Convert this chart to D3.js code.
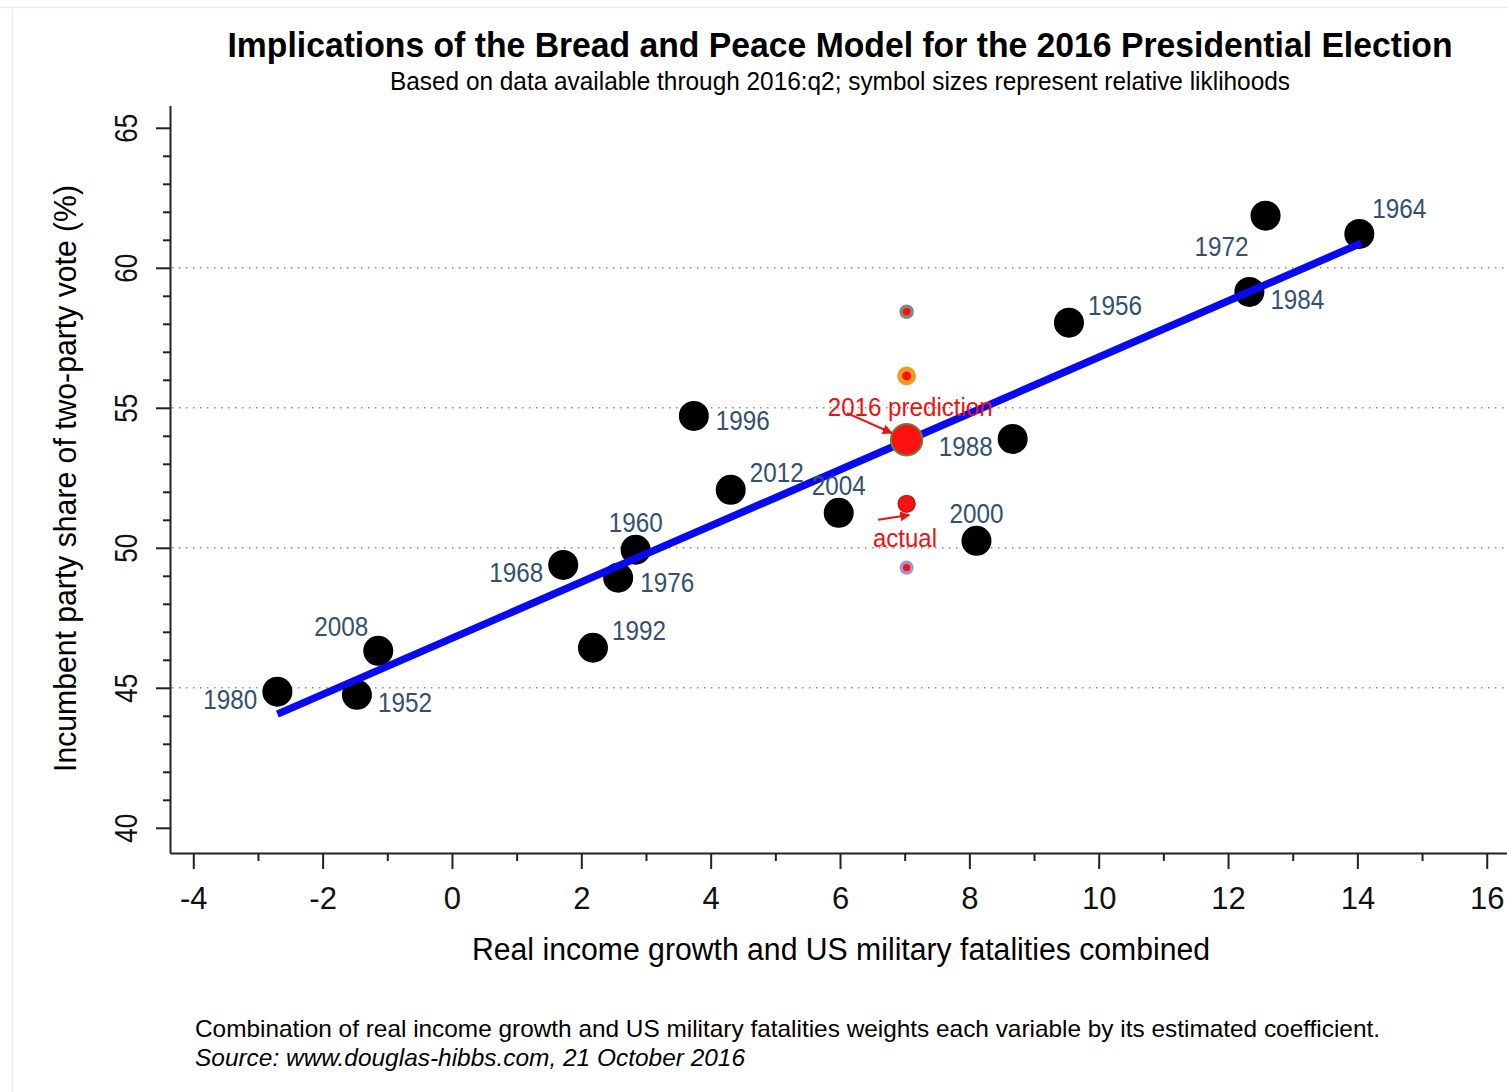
<!DOCTYPE html>
<html>
<head>
<meta charset="utf-8">
<script src="https://cdn.jsdelivr.net/npm/d3@7"></script>
<style>
  html, body { margin: 0; padding: 0; background: #fff; }
  svg { display: block; }
</style>
</head>
<body>
<svg id="chart" width="1507" height="1092"></svg>
<script>
// Presidential elections: combined income-growth / fatalities index vs. incumbent vote share
const years = ["1952","1956","1960","1964","1968","1972","1976","1980","1984","1988","1992","1996","2000","2004","2008","2012"];
const combined = [-1.47, 9.54, 2.84, 14.03, 1.72, 12.58, 2.57, -2.70, 12.33, 8.67, 2.18, 3.74, 8.11, 5.98, -1.14, 4.31];
const voteShare = [44.75, 58.04, 49.93, 61.21, 49.39, 61.86, 48.93, 44.86, 59.14, 53.89, 46.43, 54.71, 50.25, 51.25, 46.32, 52.07];
// clock position of each year label around its marker
const labelClock = [4, 2, 12, 1, 9, 8, 3, 9, 4, 9, 2, 3, 12, 12, 11, 2];

// fitted regression line endpoints
const fitX = [-2.70, 14.06];
const fitY = [44.06, 60.88];

// 2016 prediction and its likelihood band
const predX = 7.03;
const predY = [58.43, 56.14, 53.86, 51.57, 49.29];
const predLikelihood = [0.19, 0.32, 1.0, 0.3, 0.18];
const predRing = ["#7f8a80", "#f29a25", "#6e7f3a", "#b81a1a", "#a293d8"];
const predRingWidth = [3.5, 5, 2, 1.5, 3.5];

// axis ticks
const xTicks = [-4, -2, 0, 2, 4, 6, 8, 10, 12, 14, 16];
const xMinor = [-3, -1, 1, 3, 5, 7, 9, 11, 13, 15];
const yTicks = [40, 45, 50, 55, 60, 65];
const yMinor = [41,42,43,44,46,47,48,49,51,52,53,54,56,57,58,59,61,62,63,64];
const gridValues = [45, 50, 55, 60];

const FONT = "'Liberation Sans', Arial, Helvetica, sans-serif";
const LABEL_BLUE = "#33506f";
const svg = d3.select("#chart");

const x = d3.scaleLinear().domain([-4.36, 16.4]).range([170, 1512.6]);
const y = d3.scaleLinear().domain([39.1, 65.8]).range([853, 105.4]);
const r = d3.scaleSqrt().domain([0, 1]).range([0, 16.7]);

// faint outer frame of the graph region
svg.append("line").attr("x1", 0).attr("x2", 1507).attr("y1", 7.5).attr("y2", 7.5)
  .attr("stroke", "#ececec").attr("stroke-width", 1.5);
svg.append("line").attr("x1", 12.5).attr("x2", 12.5).attr("y1", 7.5).attr("y2", 1092)
  .attr("stroke", "#ececec").attr("stroke-width", 1.5);

// helper for text squeezed to a measured width
function fitText(g, str, width) {
  return g.text(str).attr("textLength", width).attr("lengthAdjust", "spacingAndGlyphs");
}

// titles
fitText(svg.append("text").attr("x", 840).attr("y", 57).attr("text-anchor", "middle")
  .attr("font-family", FONT).attr("font-weight", "bold").attr("font-size", 35).attr("fill", "#000"),
  "Implications of the Bread and Peace Model for the 2016 Presidential Election", 1225);
fitText(svg.append("text").attr("x", 840).attr("y", 90).attr("text-anchor", "middle")
  .attr("font-family", FONT).attr("font-size", 25).attr("fill", "#000"),
  "Based on data available through 2016:q2; symbol sizes represent relative liklihoods", 900);

// horizontal dotted gridlines
svg.append("g").selectAll("line").data(gridValues).join("line")
  .attr("x1", x(-4.33)).attr("x2", 1507)
  .attr("y1", d => y(d)).attr("y2", d => y(d))
  .attr("stroke", "#8a8a8a").attr("stroke-width", 1.5).attr("stroke-dasharray", "1.5,5.5");

// x axis
const gx = svg.append("g").attr("transform", `translate(0,${y(39.1)})`)
  .call(d3.axisBottom(x).tickValues(xTicks).tickSize(16).tickSizeOuter(0).tickPadding(18)
    .tickFormat(d => String(d)));
gx.select(".domain").attr("stroke", "#222").attr("stroke-width", 2);
gx.selectAll(".tick line").attr("stroke", "#222").attr("stroke-width", 2);
gx.selectAll(".tick text").attr("font-size", 31).attr("font-family", FONT).attr("fill", "#111");
const gxm = svg.append("g").attr("transform", `translate(0,${y(39.1)})`)
  .call(d3.axisBottom(x).tickValues(xMinor).tickSize(8).tickSizeOuter(0).tickFormat(""));
gxm.select(".domain").remove();
gxm.selectAll(".tick line").attr("stroke", "#222").attr("stroke-width", 2);

// y axis with rotated labels
const gy = svg.append("g").attr("transform", `translate(${x(-4.36)},0)`)
  .call(d3.axisLeft(y).tickValues(yTicks).tickSize(14).tickSizeOuter(0)
    .tickFormat(d => String(d)));
gy.select(".domain").attr("stroke", "#222").attr("stroke-width", 2);
gy.selectAll(".tick line").attr("stroke", "#222").attr("stroke-width", 2);
gy.selectAll(".tick text")
  .attr("x", null).attr("dy", null)
  .attr("transform", "translate(-33,0) rotate(-90)")
  .attr("text-anchor", "middle")
  .attr("font-size", 31).attr("font-family", FONT).attr("fill", "#111")
  .attr("textLength", 29).attr("lengthAdjust", "spacingAndGlyphs");
const gym = svg.append("g").attr("transform", `translate(${x(-4.36)},0)`)
  .call(d3.axisLeft(y).tickValues(yMinor).tickSize(7).tickSizeOuter(0).tickFormat(""));
gym.select(".domain").remove();
gym.selectAll(".tick line").attr("stroke", "#222").attr("stroke-width", 2);

// axis titles
fitText(svg.append("text").attr("x", 841).attr("y", 960).attr("text-anchor", "middle")
  .attr("font-family", FONT).attr("font-size", 31).attr("fill", "#000"),
  "Real income growth and US military fatalities combined", 738);
fitText(svg.append("text").attr("transform", "translate(76,478.5) rotate(-90)").attr("text-anchor", "middle")
  .attr("font-family", FONT).attr("font-size", 31).attr("fill", "#000"),
  "Incumbent party share of two-party vote (%)", 587);

// election markers
const idx = d3.range(years.length);
svg.append("g").selectAll("circle").data(idx).join("circle")
  .attr("cx", i => x(combined[i])).attr("cy", i => y(voteShare[i]))
  .attr("r", 15).attr("fill", "#000");

// fitted line
svg.append("line")
  .attr("x1", x(fitX[0])).attr("y1", y(fitY[0]))
  .attr("x2", x(fitX[1])).attr("y2", y(fitY[1]))
  .attr("stroke", "#0a0af2").attr("stroke-width", 7.5).attr("stroke-linecap", "butt");

// year labels placed by clock position
const clockOffset = {
  1: [40, -26], 2: [46, -18], 3: [49, 4], 4: [48, 7], 8: [-44, 30],
  9: [-47, 7], 11: [-37, -25], 12: [0, -28]
};
svg.append("g").selectAll("text").data(idx).join("text")
  .attr("x", i => x(combined[i]) + clockOffset[labelClock[i]][0])
  .attr("y", i => y(voteShare[i]) + clockOffset[labelClock[i]][1] + 10)
  .attr("text-anchor", "middle")
  .attr("font-family", FONT).attr("font-size", 27).attr("fill", LABEL_BLUE)
  .attr("textLength", 54).attr("lengthAdjust", "spacingAndGlyphs")
  .text(i => years[i]);

// arrowhead
svg.append("defs").append("marker")
  .attr("id", "arrow").attr("viewBox", "0 0 10 10").attr("refX", 9).attr("refY", 5)
  .attr("markerWidth", 5).attr("markerHeight", 5).attr("orient", "auto")
  .append("path").attr("d", "M0,0 L10,5 L0,10 z").attr("fill", "#ee1111");

// prediction likelihood symbols
const pidx = d3.range(predY.length);
svg.append("g").selectAll("circle").data(pidx).join("circle")
  .attr("cx", x(predX)).attr("cy", i => y(predY[i]))
  .attr("r", i => r(predLikelihood[i]) - predRingWidth[i] / 2)
  .attr("fill", "#ff1010")
  .attr("stroke", i => predRing[i])
  .attr("stroke-width", i => predRingWidth[i]);

// annotations
fitText(svg.append("text").attr("x", x(5.81)).attr("y", y(54.71)).attr("text-anchor", "start")
  .attr("font-family", FONT).attr("font-size", 26).attr("fill", "#ee1111"),
  "2016 prediction", 165);
svg.append("line")
  .attr("x1", x(6.11)).attr("y1", y(54.81)).attr("x2", x(6.80)).attr("y2", y(54.10))
  .attr("stroke", "#ee1111").attr("stroke-width", 2).attr("marker-end", "url(#arrow)");
svg.append("line")
  .attr("x1", x(6.59)).attr("y1", y(51.0)).attr("x2", x(7.07)).attr("y2", y(51.17))
  .attr("stroke", "#ee1111").attr("stroke-width", 2).attr("marker-end", "url(#arrow)");
fitText(svg.append("text").attr("x", x(6.51)).attr("y", y(50.03)).attr("text-anchor", "start")
  .attr("font-family", FONT).attr("font-size", 26).attr("fill", "#ee1111"),
  "actual", 64);

// notes
fitText(svg.append("text").attr("x", 195).attr("y", 1037)
  .attr("font-family", FONT).attr("font-size", 24).attr("fill", "#000"),
  "Combination of real income growth and US military fatalities weights each variable by its estimated coefficient.", 1185);
fitText(svg.append("text").attr("x", 195).attr("y", 1066)
  .attr("font-family", FONT).attr("font-size", 24).attr("font-style", "italic").attr("fill", "#000"),
  "Source: www.douglas-hibbs.com, 21 October 2016", 550);
</script>
</body>
</html>
